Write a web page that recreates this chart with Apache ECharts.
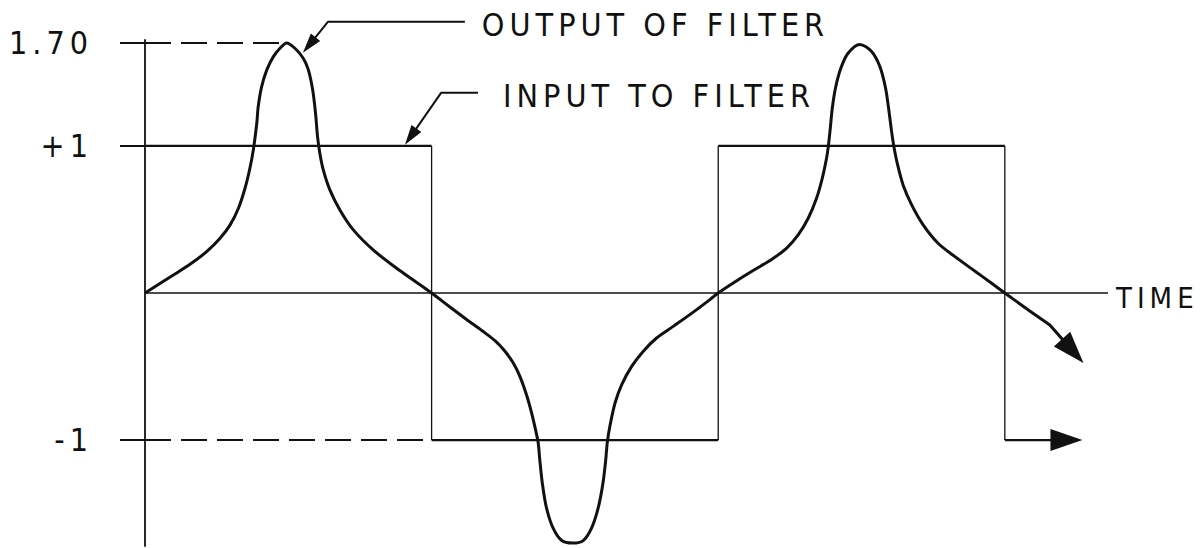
<!DOCTYPE html>
<html>
<head>
<meta charset="utf-8">
<script src="https://cdn.jsdelivr.net/npm/echarts@6/dist/echarts.min.js"></script>
<style>
  html, body { margin: 0; padding: 0; background: #fff; }
  #chart { width: 1203px; height: 548px; }
  #chart text { letter-spacing: 5px; }
</style>
</head>
<body>
<div id="chart"></div>
<script>
// ---- data ----
// output of filter (time, amplitude), three half cycles
const outputT = [
  0, 0.99, 1.57, 2.15, 2.62, 2.97, 3.26, 3.49, 3.66, 3.78, 3.90, 3.95, 4.07, 4.25, 4.48, 4.71, 4.94,
  5.23, 5.52, 5.70, 5.85, 5.95, 6.02, 6.10, 6.22, 6.45, 6.80, 7.27, 7.96, 8.78, 9.36,
  10.0, 10.64, 11.22, 11.75, 12.21, 12.56, 12.85, 13.08, 13.31, 13.49, 13.64, 13.72, 13.78, 13.87, 14.01, 14.24, 14.54, 14.92,
  15.29, 15.58, 15.81, 15.97, 16.07, 16.13, 16.23, 16.40, 16.63, 16.98, 17.38, 17.85, 18.43, 19.13, 19.71,
  20.0, 20.70, 21.28, 21.86, 22.38, 22.79, 23.14, 23.43, 23.63, 23.78, 23.84, 23.91, 23.98, 24.09, 24.28, 24.53, 24.94,
  25.35, 25.64, 25.84, 25.96, 26.05, 26.13, 26.26, 26.45, 26.75, 27.15, 27.67, 28.26, 28.95, 29.54, 30.0];
const outputY = [
  0, 0.122, 0.195, 0.281, 0.372, 0.463, 0.576, 0.712, 0.848, 0.973, 1.154, 1.267, 1.403, 1.517, 1.607, 1.664, 1.70,
  1.664, 1.596, 1.517, 1.381, 1.222, 1.063, 0.950, 0.837, 0.701, 0.565, 0.429, 0.293, 0.168, 0.088,
  0, -0.095, -0.180, -0.255, -0.324, -0.396, -0.476, -0.567, -0.692, -0.816, -0.941, -1.020, -1.145, -1.304, -1.463, -1.599, -1.683, -1.70,
  -1.683, -1.599, -1.463, -1.304, -1.145, -1.016, -0.896, -0.748, -0.624, -0.499, -0.397, -0.306, -0.227, -0.130, -0.045,
  0, 0.090, 0.160, 0.228, 0.304, 0.395, 0.508, 0.644, 0.780, 0.916, 0.995, 1.120, 1.256, 1.392, 1.529, 1.630, 1.69,
  1.642, 1.540, 1.392, 1.233, 1.097, 0.995, 0.871, 0.735, 0.599, 0.463, 0.338, 0.247, 0.150, 0.066, 0];
// output continues past the last crossing, ending in an arrow
const outputTailT = [30.0, 30.87, 31.57, 32.37];
const outputTailY = [0, -0.122, -0.218, -0.395];

// input square wave: edges and levels
const inputEdges = [0, 10, 20, 30];
const inputLevels = [1, -1, 1, -1];
const inputTailEnd = 32.15;

// reference levels (dashed) and where they end
const dashLevels = [1.70, -1];
const dashEnds = [4.94, 10];

// y-axis ticks
const tickValues = [1.70, 1, -1];
const tickLabels = ['1.70', '+1', '-1'];

// time axis extent and name
const timeAxisEnd = 33.6;
const axisName = 'TIME';

// callouts: arrow point, elbow, end (time, amplitude)
const outCalloutT = [5.73, 6.38, 11.16];
const outCalloutY = [1.686, 1.844, 1.844];
const inCalloutT = [9.27, 10.33, 11.62];
const inCalloutY = [1.063, 1.361, 1.361];
const calloutTexts = ['OUTPUT OF FILTER', 'INPUT TO FILTER'];

// ---- build ----
const FONT = "'Liberation Sans Narrow', 'DejaVu Sans Condensed', 'Liberation Sans', sans-serif";
const FS = 32;
const INK = '#111';

const outputData = outputT.map((t, i) => [t, outputY[i]]);
const tailData = outputTailT.map((t, i) => (i === outputTailT.length - 1)
  ? { value: [t, outputTailY[i]], symbol: 'triangle', symbolSize: [22, 32], symbolRotate: -138 }
  : [t, outputTailY[i]]);

// horizontal and vertical parts of the square wave
const inputH = [];
const inputV = [];
for (let i = 0; i + 1 < inputEdges.length; i++) {
  const start = inputEdges[i];
  const end = inputEdges[i + 1];
  inputH.push([start, inputLevels[i]], [end, inputLevels[i]], [null, null]);
  inputV.push([end, inputLevels[i]], [end, inputLevels[i + 1]], [null, null]);
}
const last = inputEdges.length - 1;
const inputTail = [[inputEdges[last], inputLevels[last]],
  { value: [inputTailEnd, inputLevels[last]], symbol: 'triangle', symbolSize: [22, 32], symbolRotate: -90 }];

const dashSeries = dashLevels.map((lv, i) => ({
  type: 'line', data: [[0, lv], [dashEnds[i], lv]], symbol: 'none', silent: true,
  lineStyle: { color: INK, width: 2, type: [26, 10] }, z: 1
}));

function callout(ts, ys, text, gap, rot) {
  return {
    type: 'line', clip: false, showSymbol: true, symbol: 'none', silent: true,
    data: ts.map((t, i) => i === 0
      ? { value: [t, ys[i]], symbol: 'triangle', symbolSize: [12, 20], symbolRotate: rot }
      : [t, ys[i]]),
    lineStyle: { color: INK, width: 2 },
    itemStyle: { color: INK },
    endLabel: { show: true, formatter: text, distance: gap, color: INK, fontFamily: FONT, fontSize: FS, offset: [0, 3] },
    z: 5
  };
}

const chart = echarts.init(document.getElementById('chart'), null, { renderer: 'svg' });
chart.setOption({
  animation: false,
  backgroundColor: '#fff',
  grid: { left: 145, top: 40, width: 963, height: 506 },
  xAxis: {
    type: 'value', min: 0, max: timeAxisEnd,
    axisLine: { show: false },
    axisTick: { show: false }, axisLabel: { show: false }, splitLine: { show: false }
  },
  yAxis: [{
    type: 'value', min: -1.72, max: 1.72,
    axisLine: { show: true, onZero: false, lineStyle: { color: INK, width: 1.8 } },
    axisTick: { show: false }, axisLabel: { show: false }, splitLine: { show: false }
  }, {
    type: 'value', min: -1.72, max: 1.72, position: 'left', offset: 10,
    axisLine: { show: false },
    axisTick: { show: true, inside: false, length: 25, customValues: tickValues, lineStyle: { color: INK, width: 2 } },
    axisLabel: {
      show: true, customValues: tickValues, margin: 42, color: INK, fontFamily: FONT, fontSize: FS,
      verticalAlign: 'middle', padding: [6, 0, 0, 0],
      formatter: v => { const k = tickValues.findIndex(x => Math.abs(x - v) < 1e-6); return k >= 0 ? tickLabels[k] : ''; }
    },
    splitLine: { show: false }
  }],
  series: [
    ...dashSeries,
    { type: 'line', data: [[0, 0], [timeAxisEnd, 0]], symbol: 'none', silent: true, clip: false,
      lineStyle: { color: INK, width: 1.5 }, z: 1,
      endLabel: { show: true, formatter: axisName, distance: 8, offset: [0, 5], color: INK, fontFamily: FONT, fontSize: 29 } },
    { type: 'line', data: inputH, symbol: 'none', connectNulls: false, silent: true,
      lineStyle: { color: INK, width: 2.2 }, z: 2 },
    { type: 'line', data: inputV, symbol: 'none', connectNulls: false, silent: true,
      lineStyle: { color: INK, width: 1.3 }, z: 2 },
    { type: 'line', data: inputTail, showSymbol: true, symbol: 'none', silent: true,
      lineStyle: { color: INK, width: 2.2 }, itemStyle: { color: INK }, z: 2 },
    { type: 'line', data: outputData, symbol: 'none', smooth: 0.3, silent: true,
      lineStyle: { color: INK, width: 3 }, z: 3 },
    { type: 'line', data: tailData, showSymbol: true, symbol: 'none', silent: true,
      lineStyle: { color: INK, width: 3 }, itemStyle: { color: INK }, z: 3 },
    callout(outCalloutT, outCalloutY, calloutTexts[0], 17, 141),
    callout(inCalloutT, inCalloutY, calloutTexts[1], 25, 145)
  ]
});
</script>
</body>
</html>
